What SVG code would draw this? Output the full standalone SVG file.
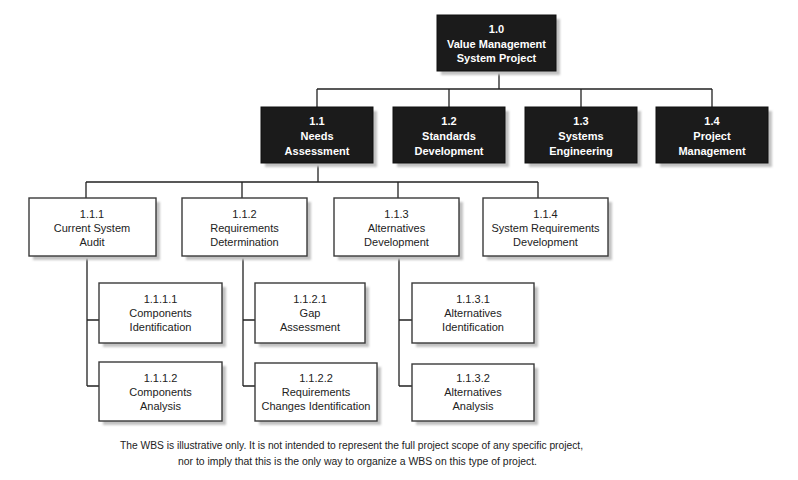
<svg xmlns="http://www.w3.org/2000/svg" width="798" height="480" viewBox="0 0 798 480">
  <defs>
    <filter id="soft" x="-10%" y="-10%" width="130%" height="130%">
      <feGaussianBlur stdDeviation="0.8"/>
    </filter>
  </defs>
  <style>
    .shadow { fill: #c2c2c2; filter: url(#soft); }
    .dark { fill: #1b1b1b; stroke: #111; stroke-width: 1; }
    .light { fill: #ffffff; stroke: #3a3a3a; stroke-width: 1.4; }
    .tb { font-family: "Liberation Sans", Arial, sans-serif; font-size: 11px; font-weight: bold; fill: #ffffff; text-anchor: middle; }
    .tn { font-family: "Liberation Sans", Arial, sans-serif; font-size: 11px; fill: #222222; text-anchor: middle; }
    .note { font-family: "Liberation Sans", Arial, sans-serif; font-size: 10px; fill: #222222; text-anchor: middle; }
    .wire { fill: none; stroke: #222222; stroke-width: 1.3; }
  </style>
  <rect width="798" height="480" fill="#ffffff"/>

  <!-- connectors -->
  <g id="connectors" class="wire">
    <path d="M499 71 V89 M317 89 H712 M317 89 V107 M449 89 V107 M581 89 V107 M712 89 V107"/>
    <path d="M318 163 V182 M86 182 H538 M86 182 V198 M242 182 V198 M398 182 V198 M538 182 V198"/>
    <path d="M87 256 V386 M87 320 H99 M87 386 H99"/>
    <path d="M243 256 V386 M243 320 H255 M243 386 H255"/>
    <path d="M399 256 V386 M399 320 H412 M399 386 H412"/>
  </g>

  <!-- level 1 -->
  <g id="n1_0">
    <rect class="shadow" x="441" y="19" width="119" height="56"/>
    <rect class="dark" x="437" y="15" width="119" height="56"/>
    <text class="tb" x="496.5" y="33">1.0</text>
    <text class="tb" x="496.5" y="48">Value Management</text>
    <text class="tb" x="496.5" y="62">System Project</text>
  </g>

  <!-- level 2 -->
  <g id="n1_1">
    <rect class="shadow" x="265" y="111" width="112" height="56"/>
    <rect class="dark" x="261" y="107" width="112" height="56"/>
    <text class="tb" x="317" y="125">1.1</text>
    <text class="tb" x="317" y="140">Needs</text>
    <text class="tb" x="317" y="155">Assessment</text>
  </g>
  <g id="n1_2">
    <rect class="shadow" x="397" y="111" width="112" height="56"/>
    <rect class="dark" x="393" y="107" width="112" height="56"/>
    <text class="tb" x="449" y="125">1.2</text>
    <text class="tb" x="449" y="140">Standards</text>
    <text class="tb" x="449" y="155">Development</text>
  </g>
  <g id="n1_3">
    <rect class="shadow" x="529" y="111" width="112" height="56"/>
    <rect class="dark" x="525" y="107" width="112" height="56"/>
    <text class="tb" x="581" y="125">1.3</text>
    <text class="tb" x="581" y="140">Systems</text>
    <text class="tb" x="581" y="155">Engineering</text>
  </g>
  <g id="n1_4">
    <rect class="shadow" x="660" y="111" width="112" height="56"/>
    <rect class="dark" x="656" y="107" width="112" height="56"/>
    <text class="tb" x="712" y="125">1.4</text>
    <text class="tb" x="712" y="140">Project</text>
    <text class="tb" x="712" y="155">Management</text>
  </g>

  <!-- level 3 -->
  <g id="n1_1_1">
    <rect class="shadow" x="33" y="202" width="127" height="58"/>
    <rect class="light" x="29" y="198" width="127" height="58"/>
    <text class="tn" x="92" y="218">1.1.1</text>
    <text class="tn" x="92" y="232">Current System</text>
    <text class="tn" x="92" y="246">Audit</text>
  </g>
  <g id="n1_1_2">
    <rect class="shadow" x="186" y="202" width="125" height="58"/>
    <rect class="light" x="182" y="198" width="125" height="58"/>
    <text class="tn" x="244.5" y="218">1.1.2</text>
    <text class="tn" x="244.5" y="232">Requirements</text>
    <text class="tn" x="244.5" y="246">Determination</text>
  </g>
  <g id="n1_1_3">
    <rect class="shadow" x="338" y="202" width="125" height="58"/>
    <rect class="light" x="334" y="198" width="125" height="58"/>
    <text class="tn" x="396.5" y="218">1.1.3</text>
    <text class="tn" x="396.5" y="232">Alternatives</text>
    <text class="tn" x="396.5" y="246">Development</text>
  </g>
  <g id="n1_1_4">
    <rect class="shadow" x="487" y="202" width="125" height="58"/>
    <rect class="light" x="483" y="198" width="125" height="58"/>
    <text class="tn" x="545.5" y="218">1.1.4</text>
    <text class="tn" x="545.5" y="232">System Requirements</text>
    <text class="tn" x="545.5" y="246">Development</text>
  </g>

  <!-- level 4 -->
  <g id="n1_1_1_1">
    <rect class="shadow" x="103" y="287" width="123" height="60"/>
    <rect class="light" x="99" y="283" width="123" height="60"/>
    <text class="tn" x="160.5" y="303">1.1.1.1</text>
    <text class="tn" x="160.5" y="317">Components</text>
    <text class="tn" x="160.5" y="331">Identification</text>
  </g>
  <g id="n1_1_1_2">
    <rect class="shadow" x="103" y="366" width="123" height="59"/>
    <rect class="light" x="99" y="362" width="123" height="59"/>
    <text class="tn" x="160.5" y="382">1.1.1.2</text>
    <text class="tn" x="160.5" y="396">Components</text>
    <text class="tn" x="160.5" y="410">Analysis</text>
  </g>
  <g id="n1_1_2_1">
    <rect class="shadow" x="259" y="287" width="110" height="60"/>
    <rect class="light" x="255" y="283" width="110" height="60"/>
    <text class="tn" x="310" y="303">1.1.2.1</text>
    <text class="tn" x="310" y="317">Gap</text>
    <text class="tn" x="310" y="331">Assessment</text>
  </g>
  <g id="n1_1_2_2">
    <rect class="shadow" x="259" y="367" width="122" height="58"/>
    <rect class="light" x="255" y="363" width="122" height="58"/>
    <text class="tn" x="316" y="382">1.1.2.2</text>
    <text class="tn" x="316" y="396">Requirements</text>
    <text class="tn" x="316" y="410">Changes Identification</text>
  </g>
  <g id="n1_1_3_1">
    <rect class="shadow" x="416" y="287" width="122" height="60"/>
    <rect class="light" x="412" y="283" width="122" height="60"/>
    <text class="tn" x="473" y="303">1.1.3.1</text>
    <text class="tn" x="473" y="317">Alternatives</text>
    <text class="tn" x="473" y="331">Identification</text>
  </g>
  <g id="n1_1_3_2">
    <rect class="shadow" x="416" y="368" width="122" height="57"/>
    <rect class="light" x="412" y="364" width="122" height="57"/>
    <text class="tn" x="473" y="382">1.1.3.2</text>
    <text class="tn" x="473" y="396">Alternatives</text>
    <text class="tn" x="473" y="410">Analysis</text>
  </g>

  <!-- footnote -->
  <g id="footnote">
    <text class="note" x="351.5" y="449" textLength="463" lengthAdjust="spacingAndGlyphs">The WBS is illustrative only. It is not intended to represent the full project scope of any specific project,</text>
    <text class="note" x="357.5" y="465" textLength="359" lengthAdjust="spacingAndGlyphs">nor to imply that this is the only way to organize a WBS on this type of project.</text>
  </g>
</svg>
